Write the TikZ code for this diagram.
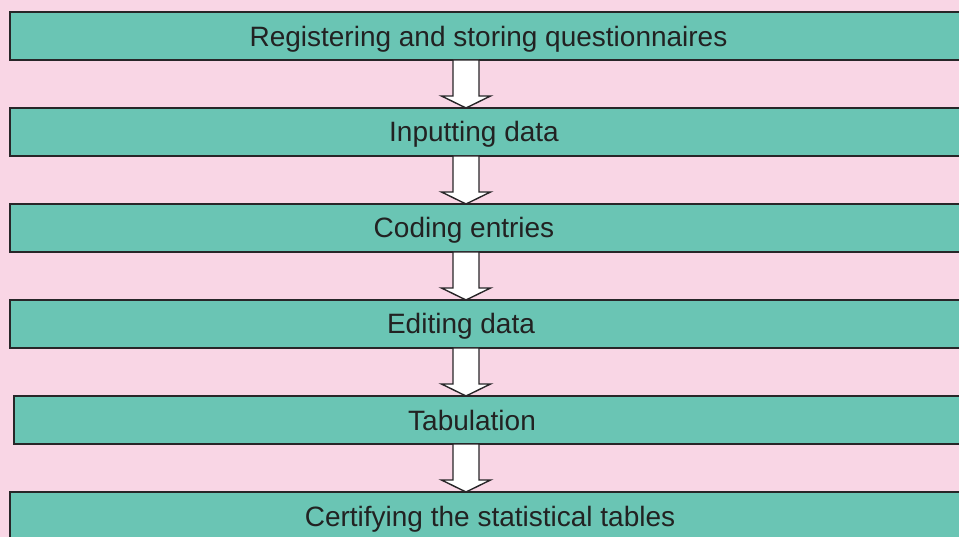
\documentclass[tikz,border=0pt]{standalone}
\usepackage{fontspec}
\setmainfont{Liberation Sans}
\usetikzlibrary{calc}
\definecolor{bgpink}{RGB}{249,214,229}
\definecolor{boxteal}{RGB}{106,197,180}
\definecolor{edgedark}{RGB}{40,38,40}
\definecolor{txtdark}{RGB}{34,34,34}
\tikzset{
  stagebox/.style={draw=edgedark, line width=2pt, fill=boxteal, rectangle, anchor=north west,
    minimum height=48pt, inner sep=0pt, outer sep=0pt},
  stagelabel/.style={anchor=base, inner sep=0pt, text=txtdark, font=\fontsize{28}{32}\selectfont},
  blockarrow/.style={draw=edgedark, line width=1.4pt, fill=white, line join=miter}
}
\newcommand\flowarr[2]{%
  \path (#1.south -| ax) coordinate (s#1) (#2.north -| ax) coordinate (t#1);
  \draw[blockarrow] ($(s#1)+(-13,0)$) -- ($(s#1)+(13,0)$) -- ($(t#1)+(13,-12)$) -- ($(t#1)+(24.5,-12)$)
    -- (t#1) -- ($(t#1)+(-24.5,-12)$) -- ($(t#1)+(-13,-12)$) -- cycle;
}
\begin{document}
\begin{tikzpicture}[x=1pt,y=-1pt]
\useasboundingbox (0,0) rectangle (959,537);
\fill[bgpink] (0,0) rectangle (959,537);
\clip (0,0) rectangle (959,537);
\coordinate (ax) at (466,0);
\node[stagebox, minimum width=970pt] (box1) at (10,12) {};
\node[stagebox, minimum width=970pt] (box2) at (10,108) {};
\node[stagebox, minimum width=970pt] (box3) at (10,204) {};
\node[stagebox, minimum width=970pt] (box4) at (10,300) {};
\node[stagebox, minimum width=966pt] (box5) at (14,396) {};
\node[stagebox, minimum width=970pt] (box6) at (10,492) {};
\flowarr{box1}{box2}
\flowarr{box2}{box3}
\flowarr{box3}{box4}
\flowarr{box4}{box5}
\flowarr{box5}{box6}
\node[stagelabel] (l1) at (488.5,46.5) {Registering and storing questionnaires};
\node[stagelabel] (l2) at (474,142) {Inputting data};
\node[stagelabel] (l3) at (464,238) {Coding entries};
\node[stagelabel] (l4) at (461,334) {Editing data};
\node[stagelabel] (l5) at (472,430) {Tabulation};
\node[stagelabel] (l6) at (490,526) {Certifying the statistical tables};
\end{tikzpicture}
\end{document}
